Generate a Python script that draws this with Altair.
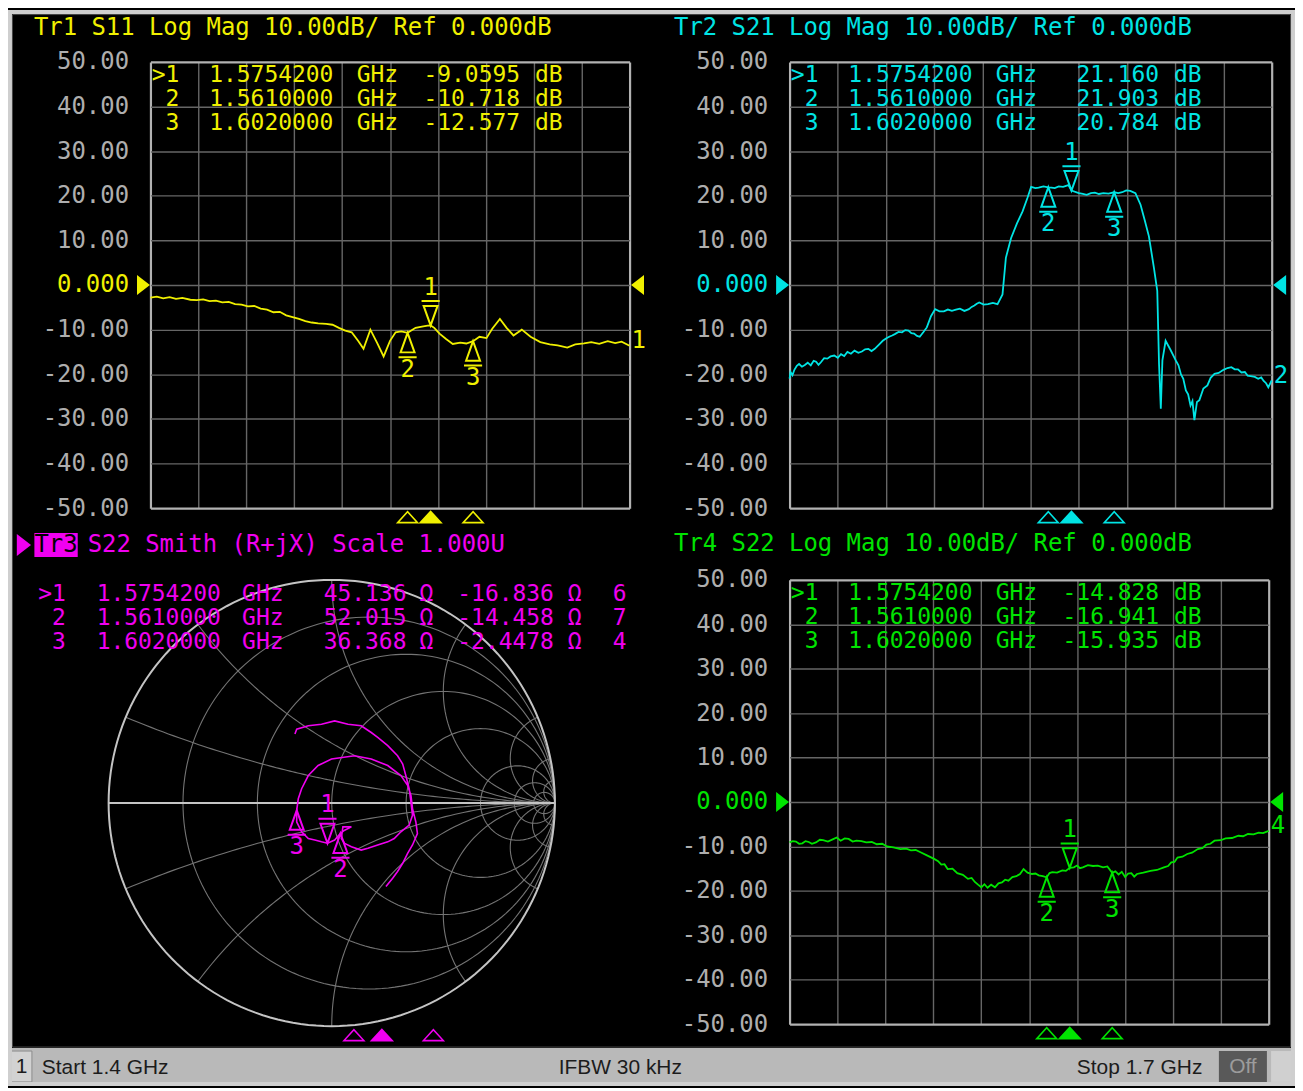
import numpy as np
import pandas as pd
import altair as alt

# ---------------- data ----------------
TITLE1 = "Tr1 S11 Log Mag 10.00dB/ Ref 0.000dB"
TITLE2 = "Tr2 S21 Log Mag 10.00dB/ Ref 0.000dB"
TITLE3_TAG = "Tr3"
TITLE3 = "S22 Smith (R+jX) Scale 1.000U"
TITLE4 = "Tr4 S22 Log Mag 10.00dB/ Ref 0.000dB"
STATUS_TEXT = ["1", "Start 1.4 GHz", "IFBW 30 kHz", "Stop 1.7 GHz", "Off"]

FREQ_GRID = [1.40, 1.43, 1.46, 1.49, 1.52, 1.55, 1.58, 1.61, 1.64, 1.67, 1.70]
DB_GRID = [50, 40, 30, 20, 10, 0, -10, -20, -30, -40, -50]
REF_LEVEL = [0.0]

MARKER_IDS = [1, 2, 3]
MARKER_LABELS = [">1", "2", "3"]
MARKER_FREQ = [1.57542, 1.561, 1.602]
MARKER_FREQ_TEXT = ["1.5754200", "1.5610000", "1.6020000"]

S11_MARKER_DB = [-9.0595, -10.718, -12.577]
S11_MARKER_TEXT = ["-9.0595", "-10.718", "-12.577"]
S21_MARKER_DB = [21.160, 21.903, 20.784]
S21_MARKER_TEXT = ["21.160", "21.903", "20.784"]
S22_MARKER_DB = [-14.828, -16.941, -15.935]
S22_MARKER_TEXT = ["-14.828", "-16.941", "-15.935"]
S22_R = [45.136, 52.015, 36.368]
S22_X = [-16.836, -14.458, -2.4478]
S22_R_TEXT = ["45.136", "52.015", "36.368"]
S22_X_TEXT = ["-16.836", "-14.458", "-2.4478"]
SMITH_EXTRA = ["6", "7", "4"]

S11_F = [1.400, 1.404, 1.408, 1.412, 1.416, 1.420, 1.425, 1.429, 1.433, 1.437,
         1.441, 1.445, 1.449, 1.453, 1.457, 1.461, 1.465, 1.469, 1.473, 1.477,
         1.481, 1.485, 1.489, 1.493, 1.497, 1.501, 1.505, 1.510, 1.514, 1.518,
         1.522, 1.526, 1.530, 1.5334, 1.5377, 1.542, 1.546, 1.550, 1.5535, 1.557,
         1.561, 1.566, 1.570, 1.5735, 1.57542, 1.5777, 1.581, 1.5851, 1.5893, 1.594,
         1.5978, 1.602, 1.606, 1.6104, 1.614, 1.6188, 1.623, 1.6273, 1.6325, 1.638,
         1.6441, 1.650, 1.655, 1.661, 1.666, 1.6715, 1.676, 1.681, 1.6863, 1.691,
         1.695, 1.700]
S11_DB = [-2.8, -2.6, -3.0, -2.7, -3.1, -2.9, -3.3, -3.4, -3.2, -3.6,
          -3.5, -3.9, -3.8, -4.3, -4.4, -4.8, -4.7, -5.3, -5.5, -6.1,
          -6.0, -6.8, -7.2, -7.6, -8.1, -8.4, -8.6, -8.7, -8.9, -9.6,
          -10.2, -10.6, -12.5, -14.3, -10.0, -13.0, -16.0, -12.5, -10.6, -10.4,
          -10.718, -9.6, -9.3, -9.1, -9.06, -9.6, -10.9, -12.1, -13.2, -12.9,
          -13.1, -12.577, -11.6, -11.9, -9.8, -7.6, -9.6, -11.3, -10.0, -11.6,
          -12.8, -13.3, -13.5, -14.0, -13.3, -13.1, -12.8, -13.2, -12.6, -13.0,
          -12.7, -13.6]

S21_F = [1.4000, 1.4006, 1.4018, 1.4030, 1.4045, 1.4059, 1.4077, 1.4095, 1.4113, 1.4132,
         1.4150, 1.4165, 1.4180, 1.4195, 1.4215, 1.4235, 1.4255, 1.4278, 1.4300, 1.4320,
         1.4340, 1.4360, 1.4382, 1.4404, 1.4428, 1.4450, 1.4470, 1.4490, 1.4510, 1.4530,
         1.4555, 1.4580, 1.4600, 1.4620, 1.4638, 1.4655, 1.4678, 1.4700, 1.4720, 1.4740,
         1.4758, 1.4775, 1.4793, 1.4810, 1.4832, 1.4854, 1.4880, 1.4906, 1.4933, 1.4960,
         1.4985, 1.5010, 1.5035, 1.5060, 1.5088, 1.5116, 1.5133, 1.5150, 1.5165, 1.5180,
         1.5208, 1.5235, 1.5265, 1.5294,
         1.5325, 1.5346, 1.5378, 1.5415, 1.5450, 1.5480, 1.5503,
         1.5530, 1.5550, 1.5580, 1.5610, 1.5630, 1.5650, 1.5675, 1.5702, 1.5735, 1.57542,
         1.5800, 1.5825, 1.5849, 1.5875, 1.5900, 1.5925, 1.5953, 1.5985, 1.6020, 1.6045,
         1.6070, 1.6095, 1.6120, 1.6152, 1.6184, 1.6210, 1.6236, 1.6267, 1.6288, 1.6299,
         1.6310, 1.6320, 1.6340, 1.6370, 1.6403, 1.6420, 1.6435, 1.6450, 1.6466, 1.6480,
         1.6495, 1.6507, 1.6519, 1.6535, 1.6550, 1.6575, 1.6600, 1.6620, 1.6644, 1.6670,
         1.6700, 1.6725, 1.6749, 1.6770, 1.6790, 1.6812, 1.6833, 1.6850, 1.6870, 1.6895,
         1.6916, 1.6935, 1.6950, 1.6965, 1.6979, 1.7000]
S21_DB = [-21.0, -19.5, -20.2, -19.0, -18.1, -17.7, -18.3, -17.9, -17.4, -18.0,
          -17.0, -17.2, -17.9, -17.3, -16.4, -16.5, -16.0, -15.8, -16.3, -15.5,
          -15.9, -15.0, -15.4, -14.7, -15.2, -14.9, -14.4, -14.3, -14.8, -14.3,
          -13.4, -12.5, -12.0, -11.6, -11.3, -11.0, -10.5, -10.6, -10.1, -10.2,
          -10.8, -10.9, -11.4, -11.6, -10.6, -9.5, -7.0, -5.4, -5.9, -5.9,
          -5.5, -5.8, -5.5, -5.3, -5.8, -5.4, -4.9, -4.6, -4.2, -3.9,
          -4.4, -4.3, -4.0, -4.3,
          -2.1, 6.1, 10.5, 13.8, 16.5, 19.5, 22.0,
          21.7, 21.8, 22.1, 21.903, 21.8, 21.7, 22.1, 22.0, 22.4, 21.16,
          20.6, 20.4, 20.2, 20.6, 20.7, 20.4, 20.6, 20.5, 20.784, 20.6,
          20.8, 21.2, 21.1, 20.6, 18.0, 14.5, 10.9, 3.9, -1.3, -17.7,
          -27.7, -16.9, -12.5, -14.5, -16.9, -18.0, -20.0, -21.0, -23.6, -24.5,
          -27.0, -26.0, -30.3, -26.2, -25.8, -23.2, -22.5, -20.8, -19.9, -19.7,
          -19.0, -18.6, -18.4, -18.9, -18.9, -19.6, -19.5, -20.3, -20.4, -20.6,
          -21.0, -20.7, -21.5, -22.0, -22.9, -21.4]

S22_F = [1.4000, 1.4020, 1.4040, 1.4060, 1.4080, 1.4100, 1.4120, 1.4140, 1.4165, 1.4190,
         1.4210, 1.4240, 1.4270, 1.4295, 1.4320, 1.4345, 1.4370, 1.4395, 1.4419, 1.4450,
         1.4480, 1.4515, 1.4546, 1.4580, 1.4610, 1.4650, 1.4694, 1.4730, 1.4760, 1.4790,
         1.4820, 1.4860, 1.4905, 1.4930, 1.4950, 1.4970, 1.4990, 1.5020, 1.5050, 1.5085,
         1.5117, 1.5140, 1.5160, 1.5180, 1.5201, 1.5220, 1.5240, 1.5262, 1.5286, 1.5308,
         1.5330, 1.5350, 1.5370, 1.5395, 1.5420, 1.5443, 1.5465, 1.5490, 1.5518, 1.5540,
         1.5560, 1.5585, 1.5610, 1.5628, 1.5645, 1.5675, 1.5708, 1.5730, 1.57542, 1.5780,
         1.5800, 1.5818, 1.5836, 1.5868, 1.5900, 1.5930, 1.5963, 1.5990, 1.6020, 1.6040,
         1.6060, 1.6080, 1.6101, 1.6120, 1.6140, 1.6158, 1.6175, 1.6215, 1.6260, 1.6300,
         1.6344, 1.6370, 1.6390, 1.6410, 1.6429, 1.6460, 1.6490, 1.6520, 1.6556, 1.6585,
         1.6610, 1.6635, 1.6661, 1.6700, 1.6730, 1.6770, 1.6810, 1.6840, 1.6870, 1.6905,
         1.6937, 1.6965, 1.7000]
S22_DB = [-9.1, -8.8, -8.9, -9.4, -9.3, -8.8, -9.0, -9.4, -9.1, -8.5,
          -8.6, -8.9, -8.4, -8.0, -8.7, -8.2, -8.3, -8.9, -8.7, -8.8,
          -9.1, -9.0, -9.5, -9.4, -10.0, -10.2, -10.6, -10.5, -10.9, -10.8,
          -11.3, -12.0, -12.8, -13.3, -14.1, -14.0, -15.1, -15.0, -16.0, -16.4,
          -17.3, -17.1, -18.0, -18.6, -19.2, -18.5, -19.3, -18.6, -19.2, -18.3,
          -18.1, -17.5, -17.7, -16.9, -16.7, -16.2, -15.1, -15.9, -16.2, -16.1,
          -16.5, -16.7, -16.941, -16.0, -15.8, -15.9, -15.4, -15.5, -14.828, -14.7,
          -14.3, -14.9, -14.7, -14.2, -14.4, -14.3, -14.7, -14.5, -15.935, -15.6,
          -16.3, -15.7, -16.9, -16.1, -16.0, -16.8, -16.2, -15.9, -15.5, -15.3,
          -14.7, -14.4, -13.6, -13.5, -12.5, -12.3, -11.7, -11.4, -10.6, -10.4,
          -9.6, -9.4, -8.7, -8.6, -8.2, -8.1, -7.6, -7.7, -7.2, -7.3,
          -6.9, -7.0, -6.5]

# S22 reflection coefficient trace (real, imaginary), in sweep order
SMITH_RE = [-0.165, -0.157, -0.105, -0.046, 0.013, 0.073, 0.132, 0.177, 0.206, 0.251,
            0.295, 0.318, 0.332, 0.347, 0.355, 0.362, 0.347, 0.310, 0.280, 0.251,
            0.206, 0.162, 0.132, 0.088, 0.058, 0.043, 0.050, 0.088, 0.058, 0.039,
            0.013, -0.019, -0.046, -0.076, -0.105, -0.135, -0.157, -0.157, -0.150, -0.135,
            -0.105, -0.061, -0.001, 0.102, 0.177, 0.251, 0.310, 0.340, 0.355, 0.362,
            0.377, 0.384, 0.362, 0.340, 0.318, 0.295, 0.273, 0.243]
SMITH_IM = [0.309, 0.331, 0.346, 0.353, 0.368, 0.353, 0.346, 0.316, 0.294, 0.257,
            0.212, 0.175, 0.123, 0.064, 0.004, -0.055, -0.099, -0.129, -0.159, -0.174,
            -0.188, -0.203, -0.211, -0.196, -0.181, -0.159, -0.107, -0.107, -0.122, -0.136,
            -0.166, -0.180, -0.174, -0.166, -0.159, -0.129, -0.085, -0.033, 0.019, 0.064,
            0.123, 0.168, 0.197, 0.212, 0.197, 0.168, 0.123, 0.079, 0.034, -0.025,
            -0.085, -0.137, -0.188, -0.226, -0.270, -0.307, -0.337, -0.374]

R_CIRCLES = [0.2, 0.5, 1, 2, 5, 10, 20]
X_ARCS = [0.2, 0.5, 1, 2, 5, 10, 20]

# ---------------- style / layout ----------------
MONO = "DejaVu Sans Mono"
SANS = "Liberation Sans"
FS = 24
FSR = 23
YELLOW = "#f0f000"
CYAN = "#00e4e4"
MAGENTA = "#f000f0"
GREEN = "#00e400"
LABEL_GRAY = "#aeaeae"
GRID = "#666666"
EDGE = "#b2b2b2"

SMITH_X_DOMAIN = [-0.8125, 1.1875]
SMITH_F_DOMAIN = [1.456, 1.6863]

DOWN = "M0,0L-0.5,-1.4L0.5,-1.4Z M-0.65,-1.75L0.65,-1.75"
UP = "M0,0L-0.5,1.4L0.5,1.4Z M-0.65,1.75L0.65,1.75"
BOT = "M-1,0.55L1,0.55L0,-0.55Z"
TRI_R = "M-0.65,-1L0.65,0L-0.65,1Z"
TRI_L = "M0.65,-1L-0.65,0L0.65,1Z"

ROW_Y = [13.5, 37.5, 61.5]


def one(**kw):
    return pd.DataFrame({k: [v] for k, v in kw.items()})


def vtext(text, x, y, color, align="left", font=MONO, size=FS):
    return alt.Chart(one(t=text)).mark_text(
        align=align, baseline="middle", font=font, fontSize=size, color=color
    ).encode(x=alt.value(x), y=alt.value(y), text="t:N")


def vrect(x1, x2, y1, y2, **style):
    return alt.Chart(one(a=0)).mark_rect(**style).encode(
        x=alt.value(x1), x2=alt.value(x2), y=alt.value(y1), y2=alt.value(y2))


def logmag(title, tf, tdb, mdb, mtext, color, w, h, end_label, lpad, title_dx, title_dy):
    trace = pd.DataFrame({"f": tf, "db": tdb})
    mk = pd.DataFrame({"id": MARKER_IDS, "lab": [str(i) for i in MARKER_IDS],
                       "f": MARKER_FREQ, "db": mdb})
    X = alt.X("f:Q", scale=alt.Scale(domain=[1.4, 1.7], nice=False, zero=False),
              axis=alt.Axis(values=FREQ_GRID, labels=False, ticks=False, domain=False,
                            title=None, grid=True,
                            gridColor={"condition": {"test": "datum.value < 1.401 || datum.value > 1.699", "value": EDGE}, "value": GRID},
                            gridWidth={"condition": {"test": "datum.value < 1.401 || datum.value > 1.699", "value": 2.2}, "value": 1.4}))
    Y = alt.Y("db:Q", scale=alt.Scale(domain=[-50, 50], nice=False, zero=False),
              axis=alt.Axis(values=DB_GRID, ticks=False, domain=False, title=None, grid=True,
                            gridColor={"condition": {"test": "abs(datum.value) > 49", "value": EDGE}, "value": GRID},
                            gridWidth={"condition": {"test": "abs(datum.value) > 49", "value": 2.2}, "value": 1.4},
                            labelFont=MONO, labelFontSize=FS, labelPadding=lpad, labelOverlap=False,
                            labelColor={"condition": {"test": "datum.value == 0", "value": color}, "value": LABEL_GRAY},
                            labelExpr="datum.value == 0 ? '0.000' : (datum.value < 0 ? '-' : '') + format(abs(datum.value), '.2f')"))
    base = alt.Chart(mk)
    act = "datum.id == 1"
    oth = "datum.id != 1"
    layers = [
        alt.Chart(trace).mark_line(color=color, strokeWidth=1.8).encode(X, Y),
        base.transform_filter(act).mark_point(shape=DOWN, size=784, filled=False, stroke=color,
                                              strokeWidth=2, opacity=1).encode(X, Y),
        base.transform_filter(oth).mark_point(shape=UP, size=784, filled=False, stroke=color,
                                              strokeWidth=2, opacity=1).encode(X, Y),
        base.transform_filter(act).mark_text(dy=-38, font=MONO, fontSize=FS, color=color).encode(X, Y, text="lab:N"),
        base.transform_filter(oth).mark_text(dy=37, font=MONO, fontSize=FS, color=color).encode(X, Y, text="lab:N"),
        base.transform_filter(act).mark_point(shape=BOT, size=400, filled=True, fill=color, stroke=color,
                                              opacity=1).encode(X, y=alt.value(h + 9)),
        base.transform_filter(oth).mark_point(shape=BOT, size=400, filled=False, stroke=color,
                                              strokeWidth=1.6, opacity=1).encode(X, y=alt.value(h + 9)),
        alt.Chart(pd.DataFrame({"db": REF_LEVEL})).mark_point(shape=TRI_R, size=400, filled=True, fill=color,
                                                              opacity=1).encode(x=alt.value(-7), y=Y),
        alt.Chart(pd.DataFrame({"db": REF_LEVEL})).mark_point(shape=TRI_L, size=400, filled=True, fill=color,
                                                              opacity=1).encode(x=alt.value(w + 8), y=Y),
        alt.Chart(one(f=tf[-1], db=tdb[-1], lab=end_label)).mark_text(
            align="left", dx=2, dy=-5, font=MONO, fontSize=FS, color=color).encode(X, Y, text="lab:N"),
        vtext(title, title_dx, title_dy, color),
    ]
    for i in range(3):
        y = ROW_Y[i]
        layers += [
            vtext(MARKER_LABELS[i], 29, y, color, align="right", size=FSR),
            vtext(MARKER_FREQ_TEXT[i], 59, y, color, size=FSR),
            vtext("GHz", 207, y, color, size=FSR),
            vtext(mtext[i], 371, y, color, align="right", size=FSR),
            vtext("dB", 386, y, color, size=FSR),
        ]
    return alt.layer(*layers).properties(width=w, height=h)


def status_layers(oy):
    # status bar + outer frame, placed relative to the bottom-left panel (oy = offset of bar top)
    dark = "#1c1c1c"
    return [
        vrect(-141, 1147, oy, oy + 36, fill="#b9b9b9"),
        vrect(-140, -119, oy + 3, oy + 34, fill="#d2d2d2", stroke="#8c8c8c", strokeWidth=1),
        vtext(STATUS_TEXT[0], -129.5, oy + 19, dark, align="center", font=SANS, size=21),
        vtext(STATUS_TEXT[1], -109, oy + 20, dark, font=SANS, size=21),
        vtext(STATUS_TEXT[2], 471.7, oy + 20, dark, align="center", font=SANS, size=21),
        vtext(STATUS_TEXT[3], 1056, oy + 20, dark, align="right", font=SANS, size=21),
        vrect(1072.6, 1120.8, oy + 3, oy + 34, fill="#595959"),
        vtext(STATUS_TEXT[4], 1096.7, oy + 19, "#9c9c9c", align="center", font=SANS, size=21),
        vrect(1125, 1145, oy + 3, oy + 34, fill="#d0d0d0"),
        vrect(-141, 1147, oy - 1040, oy + 36, fillOpacity=0, stroke="#cfcfcf", strokeWidth=4),
        vrect(-138.5, 1144.5, oy - 1037.5, oy - 1, fillOpacity=0, stroke="#4a4a4a", strokeWidth=1),
    ]


def smith():
    w = h = 448
    SX = alt.X("gx:Q", scale=alt.Scale(domain=SMITH_X_DOMAIN, nice=False, zero=False), axis=None)
    SY = alt.Y("gy:Q", scale=alt.Scale(domain=[-1, 1], nice=False, zero=False), axis=None)
    FX = alt.X("f:Q", scale=alt.Scale(domain=SMITH_F_DOMAIN, nice=False, zero=False), axis=None)

    rows = []
    t = np.linspace(0, 2 * np.pi, 181)
    for k, r in enumerate(R_CIRCLES):
        c, rad = r / (1 + r), 1 / (1 + r)
        for j, tt in enumerate(t):
            rows.append((f"r{k}", j, c + rad * np.cos(tt), rad * np.sin(tt)))
    rr = np.concatenate([np.linspace(0, 1, 60), np.geomspace(1.02, 2000, 120)])
    for k, xv in enumerate(X_ARCS):
        for s in (1, -1):
            z = rr + 1j * s * xv
            g = (z - 1) / (z + 1)
            for j, gg in enumerate(g):
                rows.append((f"x{k}{s}", j, gg.real, gg.imag))
    grid_df = pd.DataFrame(rows, columns=["gid", "ord", "gx", "gy"])

    orows = [("c", j, np.cos(tt), np.sin(tt)) for j, tt in enumerate(t)]
    orows += [("a", 0, -1.0, 0.0), ("a", 1, 1.0, 0.0)]
    outer_df = pd.DataFrame(orows, columns=["gid", "ord", "gx", "gy"])

    trace_df = pd.DataFrame({"ord": list(range(len(SMITH_RE))), "gx": SMITH_RE, "gy": SMITH_IM})
    z = (np.array(S22_R) + 1j * np.array(S22_X)) / 50.0
    g = (z - 1) / (z + 1)
    mk = pd.DataFrame({"id": MARKER_IDS, "lab": [str(i) for i in MARKER_IDS],
                       "gx": g.real, "gy": g.imag, "f": MARKER_FREQ})
    base = alt.Chart(mk)
    act = "datum.id == 1"
    oth = "datum.id != 1"
    layers = [
        alt.Chart(grid_df).mark_line(color="#747474", strokeWidth=1.1).encode(SX, SY, detail="gid:N", order="ord:Q"),
        alt.Chart(outer_df).mark_line(color="#c4c4c4", strokeWidth=2).encode(SX, SY, detail="gid:N", order="ord:Q"),
        alt.Chart(trace_df).mark_line(color=MAGENTA, strokeWidth=1.6).encode(SX, SY, order="ord:Q"),
        base.transform_filter(act).mark_point(shape=DOWN, size=784, filled=False, stroke=MAGENTA,
                                              strokeWidth=2, opacity=1).encode(SX, SY),
        base.transform_filter(oth).mark_point(shape=UP, size=784, filled=False, stroke=MAGENTA,
                                              strokeWidth=2, opacity=1).encode(SX, SY),
        base.transform_filter(act).mark_text(dy=-38, font=MONO, fontSize=FS, color=MAGENTA).encode(SX, SY, text="lab:N"),
        base.transform_filter(oth).mark_text(dy=37, font=MONO, fontSize=FS, color=MAGENTA).encode(SX, SY, text="lab:N"),
        base.transform_filter(act).mark_point(shape=BOT, size=400, filled=True, fill=MAGENTA, stroke=MAGENTA,
                                              opacity=1).encode(FX, y=alt.value(h + 9)),
        base.transform_filter(oth).mark_point(shape=BOT, size=400, filled=False, stroke=MAGENTA,
                                              strokeWidth=1.6, opacity=1).encode(FX, y=alt.value(h + 9)),
        alt.Chart(one(a=0)).mark_point(shape=TRI_R, size=484, filled=True, fill=MAGENTA, opacity=1).encode(
            x=alt.value(-127), y=alt.value(-35)),
        vrect(-116.5, -73, -47, -23, fill=MAGENTA),
        vtext(TITLE3_TAG, -94.8, -35, "#000000", align="center"),
        vtext(TITLE3, -63, -35, MAGENTA),
    ]
    for i in range(3):
        y = [14, 38, 62][i]
        layers += [
            vtext(MARKER_LABELS[i], -85, y, MAGENTA, align="right", size=FSR),
            vtext(MARKER_FREQ_TEXT[i], -54, y, MAGENTA, size=FSR),
            vtext("GHz", 92, y, MAGENTA, size=FSR),
            vtext(S22_R_TEXT[i], 257, y, MAGENTA, align="right", size=FSR),
            vtext("Ω", 270, y, MAGENTA, size=FSR),
            vtext(S22_X_TEXT[i], 405, y, MAGENTA, align="right", size=FSR),
            vtext("Ω", 419, y, MAGENTA, size=FSR),
            vtext(SMITH_EXTRA[i], 478, y, MAGENTA, align="right", size=FSR),
        ]
    layers += status_layers(470)
    return alt.layer(*layers).resolve_scale(x="independent").properties(width=w, height=h)


p1 = logmag(TITLE1, S11_F, S11_DB, S11_MARKER_DB, S11_MARKER_TEXT, YELLOW, 481, 448, "1", 22, -117, -34)
p2 = logmag(TITLE2, S21_F, S21_DB, S21_MARKER_DB, S21_MARKER_TEXT, CYAN, 484, 448, "2", 22, -116, -34)
p3 = smith()
p4 = logmag(TITLE4, S22_F, S22_DB, S22_MARKER_DB, S22_MARKER_TEXT, GREEN, 481, 446, "4", 22, -116, -36)

chart = (
    alt.concat(p1, p2, p3, p4, columns=2, spacing={"row": 72, "column": 160.6}, bounds="flush")
    .properties(background="#000000", padding=0)
    .configure_view(strokeWidth=0)
)

chart.save("out.html", embed_options={"renderer": "svg", "actions": False})
